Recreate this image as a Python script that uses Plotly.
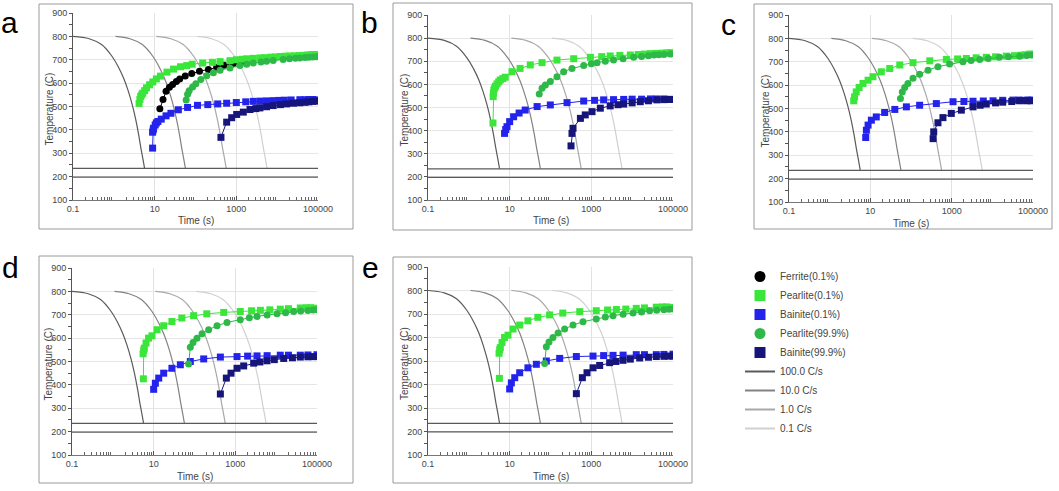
import plotly.graph_objects as go

W, H = 1059, 491

# cooling curves (same in every panel)
cool_100_t = [0.1, 0.25, 0.5, 0.9, 1.3, 1.75, 2.2, 2.8, 3.4, 4.0, 4.6, 5.1, 5.65]
cool_100_T = [800, 790, 765, 715, 668, 620, 572, 510, 448, 385, 322, 280, 236]
cool_10_t = [1.1, 2.5, 5, 9, 13, 17.5, 22, 28, 34, 40, 46, 51, 56.5]
cool_10_T = [800, 790, 765, 715, 668, 620, 572, 510, 448, 385, 322, 280, 236]
cool_1_t = [11, 25, 50, 90, 130, 175, 220, 280, 340, 400, 460, 510, 565]
cool_1_T = [800, 790, 765, 715, 668, 620, 572, 510, 448, 385, 322, 280, 236]
cool_01_t = [110, 250, 500, 900, 1300, 1750, 2200, 2800, 3400, 4000, 4600, 5100, 5650]
cool_01_T = [800, 790, 765, 715, 668, 620, 572, 510, 448, 385, 322, 280, 236]
cool_names = ["100.0 C/s", "10.0 C/s", "1.0 C/s", "0.1 C/s"]
ms_temp = 235
mf_temp = 198

# panel a
a_fer_t = [13.4, 16, 19, 23, 27.5, 34, 41, 56, 81, 125, 207, 330, 500, 845, 1480, 2300]
a_fer_T = [490, 530, 565, 582, 594, 607, 618, 631, 641, 651, 658, 668, 676, 684, 691, 697]
a_p01_t = [4.15, 4.35, 4.55, 4.8, 5.1, 5.7, 6.3, 7.5, 9.0, 11, 13.9, 20, 29, 43, 61, 83, 150, 260,
           400, 700, 1000, 1400, 1800, 2600, 3800, 5000, 7000, 9000, 12000, 16000, 20000, 27000,
           35000, 45000, 55000, 66000, 76000, 88000, 100000]
a_p01_T = [513, 530, 543, 550, 557, 568, 580, 593, 605, 618, 630, 647, 660, 670, 675, 681, 686, 689,
           692, 696, 700, 702, 704, 706, 708, 709, 711, 712, 714, 715, 716, 717,
           718, 719, 720, 721, 722, 722, 721]
a_b01_t = [8.9, 8.9, 9.2, 9.4, 10.3, 11, 12, 14.5, 19, 25, 38, 64, 112, 200, 350, 580, 1000, 1700,
           2600, 3800, 5500, 8000, 11000, 15000, 22000, 36000, 48000, 60000, 75000, 92000]
a_b01_T = [322, 390, 400, 407, 421, 430, 436, 446, 460, 471, 486, 496, 505, 508, 511, 514, 517, 520,
           522, 523, 524, 525, 526, 527, 528, 529, 529, 530, 530, 528]
a_p999_t = [59, 64, 70, 85, 102, 135, 188, 274, 400, 700, 1230, 1800, 2600, 4000, 5500, 8000,
            14000, 20000, 28000, 36000, 48000, 60000, 75000, 92000]
a_p999_T = [528, 552, 567, 583, 597, 615, 632, 644, 655, 665, 675, 681, 686, 690, 694, 697,
            701, 704, 706, 708, 710, 711, 712, 713]
a_b999_t = [420, 580, 770, 1020, 1480, 2160, 3000, 3780, 5500, 8000, 12000, 17000, 25000,
            36000, 48000, 60000, 75000, 92000]
a_b999_T = [368, 433, 452, 466, 476, 487, 491, 494, 499, 504, 508, 511, 514,
            516, 518, 520, 522, 523]

# panel b
b_p01_t = [3.9, 3.95, 4.0, 4.1, 4.3, 4.5, 4.9, 5.4, 5.9, 6.8, 7.8, 11.4, 18, 32, 62, 144, 370, 950,
           1800, 2900, 5000, 9000, 14000, 20000, 28000, 40000, 55000, 70000, 86000, 100000]
b_p01_T = [433, 547, 562, 576, 585, 592, 602, 611, 619, 625, 631, 655, 669, 684, 694, 705, 711, 717,
           720, 723, 725, 727, 729, 731, 733, 734, 735, 736, 737, 735]
b_b01_t = [7.5, 8.0, 8.6, 10, 12.5, 17, 24, 47, 99, 254, 650, 1200, 2000, 3500, 6200, 10000,
           17000, 28000, 40000, 60000, 86000]
b_b01_T = [388, 405, 417, 439, 460, 476, 489, 504, 511, 521, 528, 531, 533, 534, 535, 536,
           536, 537, 537, 537, 535]
b_p999_t = [53, 62, 75, 99, 144, 210, 336, 650, 1000, 1380, 2200, 3500, 6000, 10900, 17000,
            25000, 34000, 45000, 60000, 86000]
b_p999_T = [558, 583, 597, 612, 633, 655, 669, 682, 689, 694, 700, 705, 711, 717, 721,
            724, 727, 728, 729, 731]
b_b999_t = [318, 336, 356, 540, 710, 1040, 1660, 2900, 4500, 6200, 10000, 15800, 25000,
            40500, 60000, 86000]
b_b999_T = [334, 388, 410, 453, 468, 482, 497, 507, 512, 515, 520, 525, 529,
            533, 534, 535]

# panel c
c_p01_t = [3.9, 4.1, 4.5, 5.3, 6.6, 8.8, 11.6, 18.6, 30, 53, 112, 290, 740, 1400, 2300, 4000, 7100,
           12000, 22000, 35000, 50000, 65000, 83000, 100000]
c_p01_T = [533, 550, 571, 590, 607, 621, 636, 657, 671, 686, 696, 704, 710, 712, 714, 717, 719,
           721, 724, 726, 728, 730, 733, 731]
c_b01_t = [7.7, 8.0, 8.8, 10.6, 14, 22.5, 40, 77, 163, 420, 1080, 2000, 3350, 6000, 10400, 18000,
           32000, 45000, 60000, 75000, 91000]
c_b01_T = [376, 407, 429, 450, 464, 483, 496, 507, 514, 521, 529, 530, 531, 532, 533, 535,
           536, 536, 535, 536, 536]
c_p999_t = [55, 61, 70, 84, 112, 163, 262, 460, 890, 1900, 3000, 4900, 8000, 15000, 25000,
            47000, 70000, 91000]
c_p999_T = [543, 571, 590, 607, 629, 647, 664, 679, 690, 700, 705, 710, 714, 719, 721,
            724, 727, 729]
c_b999_t = [350, 362, 460, 610, 980, 1730, 3350, 5000, 7100, 12000, 18000, 30000, 47000, 70000, 91000]
c_b999_T = [371, 400, 439, 461, 479, 493, 507, 514, 519, 524, 527, 530, 533, 533, 533]

# panels d and e (they read the same)
d_p01_t = [5.6, 5.5, 5.7, 5.9, 6.5, 7.5, 9.1, 12.1, 17.6, 28, 49, 95, 200, 520, 1320, 2500, 4100,
           7000, 12600, 20000, 39000, 55000, 70000, 85000, 100000]
d_p01_T = [426, 533, 548, 557, 579, 600, 610, 636, 653, 671, 686, 696, 704, 710, 714, 717, 719,
           721, 724, 726, 729, 730, 730, 728, 726]
d_b01_t = [10, 11, 13.3, 17.6, 28, 45, 79, 168, 430, 1100, 2000, 3400, 6000, 12600, 20000,
           39000, 60000, 100000]
d_b01_T = [381, 407, 429, 450, 471, 486, 500, 511, 519, 521, 523, 524, 525, 527, 527,
           527, 528, 529]
d_p999_t = [72, 79, 92, 115, 153, 222, 356, 625, 1320, 2200, 3400, 6000, 10500, 17000, 26800,
            40000, 60000, 80000, 100000]
d_p999_T = [489, 561, 581, 600, 619, 636, 653, 667, 679, 687, 693, 699, 704, 709, 714,
            716, 718, 720, 721]
d_b999_t = [430, 603, 784, 1100, 1600, 2810, 4000, 5970, 9000, 15300, 25000, 39000, 60000,
            80000, 100000]
d_b999_T = [361, 429, 450, 471, 481, 493, 498, 503, 508, 513, 516, 519, 520, 521, 521]

phase_names = ["Ferrite(0.1%)", "Pearlite(0.1%)", "Bainite(0.1%)", "Pearlite(99.9%)", "Bainite(99.9%)"]
phase_colors = ["#000000", "#3be63b", "#2323ec", "#2db848", "#15157a"]
phase_symbols = ["circle", "square", "square", "circle", "square"]
cool_colors = ["#5a5a5a", "#828282", "#a8a8a8", "#d0d0d0"]

panels = [
    ("a", [(a_fer_t, a_fer_T), (a_p01_t, a_p01_T), (a_b01_t, a_b01_T), (a_p999_t, a_p999_T), (a_b999_t, a_b999_T)]),
    ("b", [None, (b_p01_t, b_p01_T), (b_b01_t, b_b01_T), (b_p999_t, b_p999_T), (b_b999_t, b_b999_T)]),
    ("c", [None, (c_p01_t, c_p01_T), (c_b01_t, c_b01_T), (c_p999_t, c_p999_T), (c_b999_t, c_b999_T)]),
    ("d", [None, (d_p01_t, d_p01_T), (d_b01_t, d_b01_T), (d_p999_t, d_p999_T), (d_b999_t, d_b999_T)]),
    ("e", [None, (d_p01_t, d_p01_T), (d_b01_t, d_b01_T), (d_p999_t, d_p999_T), (d_b999_t, d_b999_T)]),
]
cooling = [(cool_100_t, cool_100_T), (cool_10_t, cool_10_T), (cool_1_t, cool_1_T), (cool_01_t, cool_01_T)]

# pixel boxes: plot area (x0, y0, x1, y1), outer frame, letter position
plot_px = [(73, 13, 318, 200), (428, 15, 673, 200), (789, 15, 1033, 202),
           (72, 268, 317, 455), (428, 267, 673, 455)]
frame_px = [(39, 4, 353, 229), (393, 3, 692, 230), (754, 4, 1052, 229),
            (39, 256, 353, 483), (393, 257, 692, 483)]
letter_px = [(9, 22), (369, 22), (728, 24), (10, 267), (370, 267)]

FONT = "Liberation Sans, Arial, sans-serif"
TITLE_FONT = dict(size=10, color="#444", family=FONT)
minor_x = [m * 10 ** k for k in range(-1, 5) for m in range(2, 10)]

fig = go.Figure()
layout = {}
shapes = []
annotations = []

for i, (letter, series) in enumerate(panels):
    n = i + 1
    xa = "x" if n == 1 else f"x{n}"
    ya = "y" if n == 1 else f"y{n}"

    for (ct, cT), col in zip(cooling, cool_colors):
        fig.add_trace(go.Scatter(x=ct, y=cT, mode="lines", line=dict(color=col, width=1.2, shape="spline"),
                                 xaxis=xa, yaxis=ya, showlegend=False, hoverinfo="skip"))
    for lvl in (ms_temp, mf_temp):
        fig.add_trace(go.Scatter(x=[0.1, 100000], y=[lvl, lvl], mode="lines",
                                 line=dict(color="#5a5a5a", width=1.2),
                                 xaxis=xa, yaxis=ya, showlegend=False, hoverinfo="skip"))
    for s, col, sym in zip(series, phase_colors, phase_symbols):
        if s is None:
            continue
        fig.add_trace(go.Scatter(x=s[0], y=s[1], mode="lines+markers",
                                 line=dict(color=col, width=1),
                                 marker=dict(color=col, size=7, symbol=sym, line=dict(width=0)),
                                 xaxis=xa, yaxis=ya, showlegend=False))

    x0, y0, x1, y1 = plot_px[i]
    layout["xaxis" if n == 1 else f"xaxis{n}"] = dict(
        domain=[x0 / W, x1 / W], anchor=ya, type="log", range=[-1, 5],
        tickvals=[0.1, 10, 1000, 100000], ticktext=["0.1", "10", "1000", "100000"],
        ticks="inside", ticklen=4, tickcolor="#555",
        minor=dict(tickvals=minor_x, ticks="inside", ticklen=3, tickcolor="#666", showgrid=False),
        showgrid=True, gridcolor="#e2e2e2", gridwidth=1,
        showline=True, linecolor="#777", linewidth=1, automargin=False,
        tickfont=dict(size=9, color="#444", family=FONT),
    )
    layout["yaxis" if n == 1 else f"yaxis{n}"] = dict(
        domain=[1 - y1 / H, 1 - y0 / H], anchor=xa, range=[100, 900],
        dtick=100, ticks="outside", ticklen=3, tickcolor="#555",
        minor=dict(dtick=50, ticks="outside", ticklen=3, tickcolor="#555", showgrid=False),
        showgrid=True, gridcolor="#e6e6e6", zeroline=False,
        showline=True, linecolor="#555", linewidth=1, automargin=False,
        tickfont=dict(size=9, color="#444", family=FONT),
    )

    # axis titles
    annotations.append(dict(text="Time (s)", xref="paper", yref="paper",
                            x=(x0 + x1) / 2 / W, y=1 - (y1 + 21) / H,
                            xanchor="center", yanchor="middle", showarrow=False, font=TITLE_FONT))
    annotations.append(dict(text="Temperature (C)", xref="paper", yref="paper", textangle=-90,
                            x=(x0 - 24) / W, y=1 - ((y0 + y1) / 2 + 3) / H,
                            xanchor="center", yanchor="middle", showarrow=False, font=TITLE_FONT))

    fx0, fy0, fx1, fy1 = frame_px[i]
    shapes.append(dict(type="rect", xref="paper", yref="paper",
                       x0=fx0 / W, x1=fx1 / W, y0=1 - fy1 / H, y1=1 - fy0 / H,
                       line=dict(color="#9a9a9a", width=1)))
    lx, ly = letter_px[i]
    annotations.append(dict(text=letter, xref="paper", yref="paper", x=lx / W, y=1 - ly / H,
                            xanchor="center", yanchor="middle", showarrow=False,
                            font=dict(size=30, color="black", family=FONT)))

# legend-only entries
for name, col, sym in zip(phase_names, phase_colors, phase_symbols):
    fig.add_trace(go.Scatter(x=[None], y=[None], mode="markers", name=name,
                             marker=dict(color=col, size=11, symbol=sym)))
for name, col in zip(cool_names, cool_colors):
    fig.add_trace(go.Scatter(x=[None], y=[None], mode="lines", name=name,
                             line=dict(color=col, width=2)))

fig.update_layout(
    width=W, height=H, autosize=False,
    margin=dict(l=0, r=0, t=0, b=0),
    paper_bgcolor="white", plot_bgcolor="white",
    shapes=shapes, annotations=annotations,
    legend=dict(x=740 / W, y=1 - 262 / H, xanchor="left", yanchor="top",
                font=dict(size=10, color="#444", family=FONT),
                bgcolor="rgba(0,0,0,0)", tracegroupgap=0, itemwidth=30),
    showlegend=True,
    **layout,
)

# drop the page's default body margin so the figure fills the window
fig.write_html("out.html", config={"displayModeBar": False},
               post_script="document.body.style.margin='0';")
